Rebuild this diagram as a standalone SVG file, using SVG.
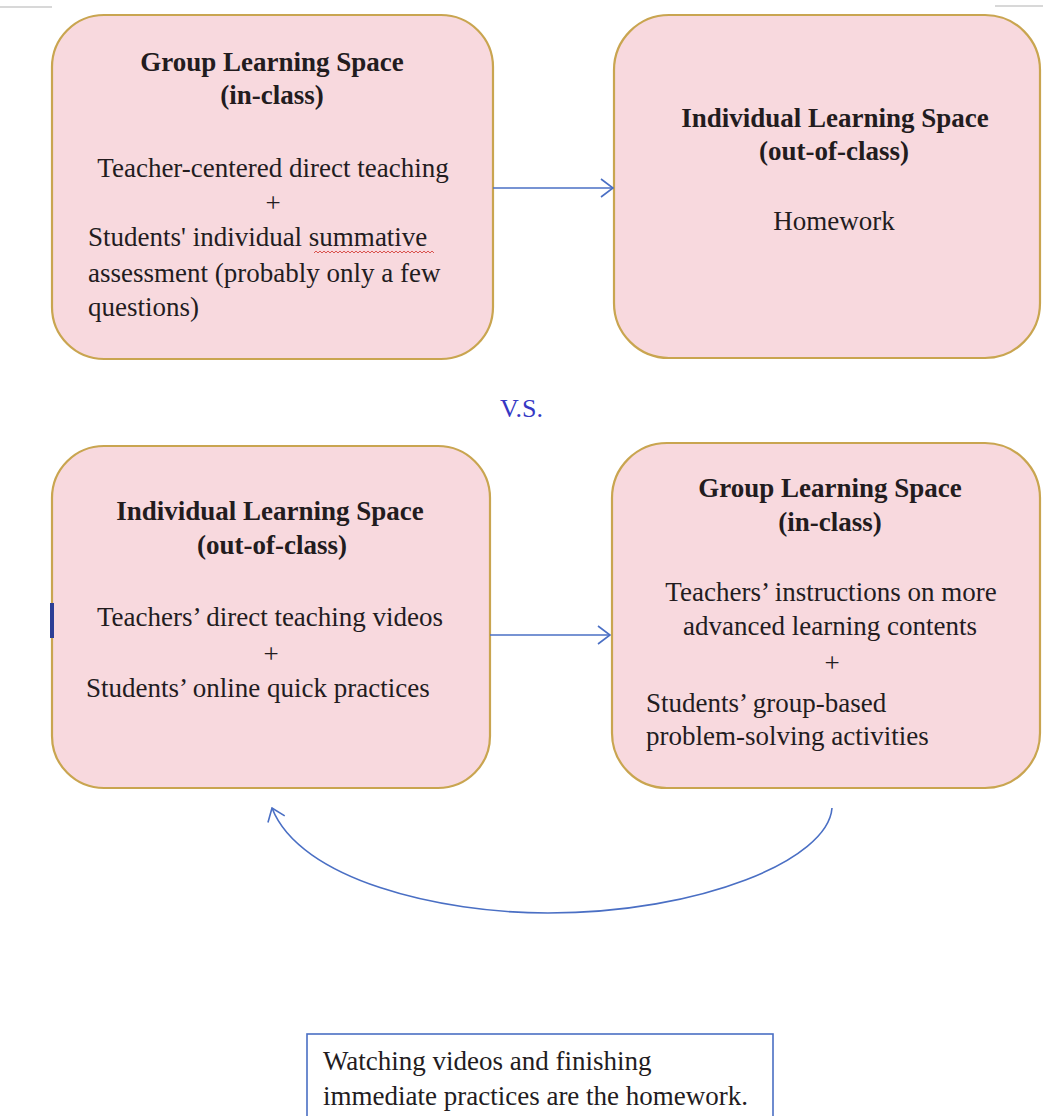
<svg xmlns="http://www.w3.org/2000/svg" width="1043" height="1116" viewBox="0 0 1043 1116">
  <style>
    .space { fill: #f8d9de; stroke: #c9a550; stroke-width: 2.2; }
    .txt { font-family: "Liberation Serif", "Times New Roman", serif; font-size: 27px; fill: #231c1e; }
    .bold { font-weight: bold; }
    .mid { text-anchor: middle; }
    .link { fill: none; stroke: #4a6fc4; stroke-width: 1.6; }
    .vs { font-family: "Liberation Serif", "Times New Roman", serif; font-size: 26px; fill: #3638c4; }
  </style>
  <defs>
    <marker id="chevron" viewBox="0 0 14 20" refX="13" refY="10" markerWidth="14" markerHeight="20" markerUnits="userSpaceOnUse" orient="auto">
      <path d="M1 1 L13 10 L1 19" fill="none" stroke="#4a6fc4" stroke-width="1.6"/>
    </marker>
  </defs>

  <rect width="1043" height="1116" fill="#ffffff"/>

  <!-- thin grey page rules at the top corners -->
  <line x1="0" y1="7" x2="52" y2="7" stroke="#d8d8d8" stroke-width="2"/>
  <line x1="995" y1="6" x2="1043" y2="6" stroke="#d8d8d8" stroke-width="2"/>

  <!-- traditional model: in-class group space -->
  <g id="trad-group-space">
    <rect class="space" x="52" y="15" width="441" height="344" rx="52" ry="52"/>
    <text class="txt bold mid" x="272" y="71">Group Learning Space</text>
    <text class="txt bold mid" x="272" y="104">(in-class)</text>
    <text class="txt mid" x="273" y="177">Teacher-centered direct teaching</text>
    <text class="txt mid" x="273" y="212">+</text>
    <text class="txt" x="88" y="246">Students' individual summative</text>
    <!-- spell-check wave under "summative" -->
    <path d="M314 253 l2 -2 l2 2 l2 -2 l2 2 l2 -2 l2 2 l2 -2 l2 2 l2 -2 l2 2 l2 -2 l2 2 l2 -2 l2 2 l2 -2 l2 2 l2 -2 l2 2 l2 -2 l2 2 l2 -2 l2 2 l2 -2 l2 2 l2 -2 l2 2 l2 -2 l2 2 l2 -2 l2 2 l2 -2 l2 2 l2 -2 l2 2 l2 -2 l2 2 l2 -2 l2 2 l2 -2 l2 2 l2 -2 l2 2 l2 -2 l2 2 l2 -2 l2 2 l2 -2 l2 2 l2 -2 l2 2 l2 -2 l2 2 l2 -2 l2 2 l2 -2 l2 2 l2 -2 l2 2 l2 -2 l2 2" fill="none" stroke="#d9534f" stroke-width="1"/>
    <text class="txt" x="88" y="282">assessment (probably only a few</text>
    <text class="txt" x="88" y="316">questions)</text>
  </g>

  <!-- traditional model: out-of-class individual space -->
  <g id="trad-individual-space">
    <rect class="space" x="614" y="15" width="426" height="343" rx="55" ry="55"/>
    <text class="txt bold mid" x="835" y="127">Individual Learning Space</text>
    <text class="txt bold mid" x="834" y="160">(out-of-class)</text>
    <text class="txt mid" x="834" y="230">Homework</text>
  </g>

  <text id="versus" class="vs" x="500" y="417">V.S.</text>

  <!-- flipped model: out-of-class individual space -->
  <g id="flip-individual-space">
    <rect class="space" x="52" y="446" width="438" height="342" rx="52" ry="52"/>
    <text class="txt bold mid" x="270" y="520">Individual Learning Space</text>
    <text class="txt bold mid" x="272" y="554">(out-of-class)</text>
    <text class="txt mid" x="270" y="626">Teachers’ direct teaching videos</text>
    <text class="txt mid" x="271" y="663">+</text>
    <text class="txt" x="86" y="697">Students’ online quick practices</text>
    <rect x="50" y="603" width="4" height="35" fill="#2c3f96"/>
  </g>

  <!-- flipped model: in-class group space -->
  <g id="flip-group-space">
    <rect class="space" x="612" y="443" width="428" height="345" rx="55" ry="55"/>
    <text class="txt bold mid" x="830" y="497">Group Learning Space</text>
    <text class="txt bold mid" x="830" y="531">(in-class)</text>
    <text class="txt mid" x="831" y="601">Teachers’ instructions on more</text>
    <text class="txt mid" x="830" y="635">advanced learning contents</text>
    <text class="txt mid" x="832" y="672">+</text>
    <text class="txt" x="646" y="712">Students’ group-based</text>
    <text class="txt" x="646" y="745">problem-solving activities</text>
  </g>

  <!-- connectors -->
  <g id="connectors">
    <line class="link" x1="493" y1="188" x2="613" y2="188" marker-end="url(#chevron)"/>
    <line class="link" x1="490" y1="635" x2="610" y2="635" marker-end="url(#chevron)"/>
    <path class="link" d="M832 808 C828 860 700 913 548 913 C440 913 300 880 272 808" marker-end="url(#chevron)"/>
  </g>

  <!-- note -->
  <g id="note">
    <rect x="307" y="1034" width="466" height="100" fill="#ffffff" stroke="#4a6fc4" stroke-width="1.6"/>
    <text class="txt" x="323" y="1070">Watching videos and finishing</text>
    <text class="txt" x="323" y="1105">immediate practices are the homework.</text>
  </g>
</svg>
